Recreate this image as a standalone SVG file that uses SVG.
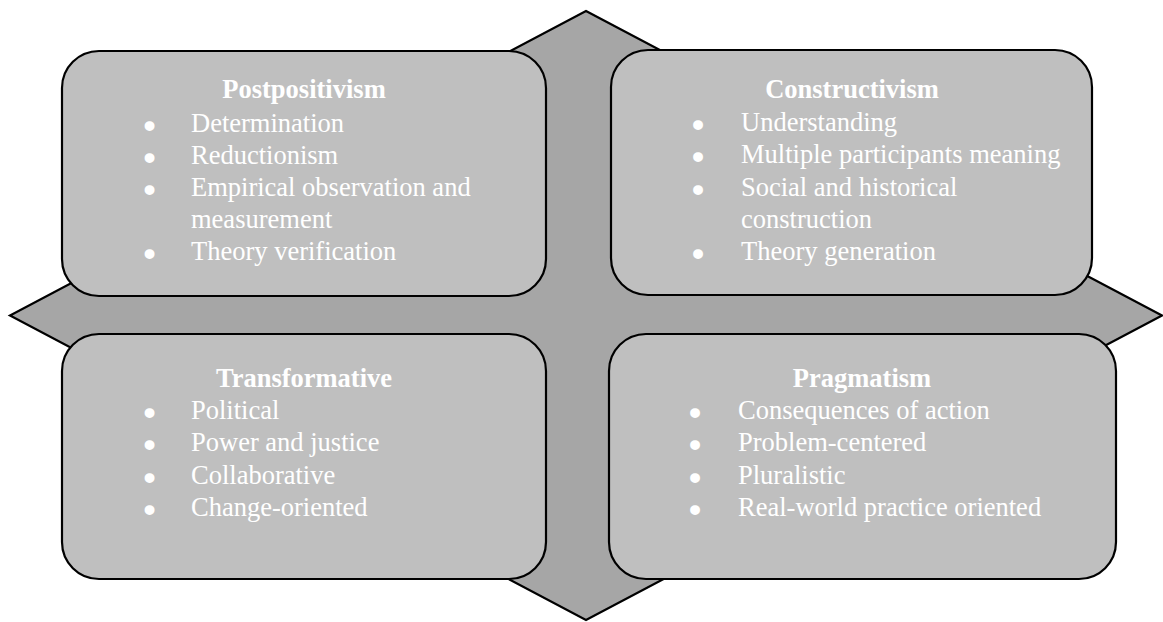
<svg xmlns="http://www.w3.org/2000/svg" width="1163" height="622" viewBox="0 0 1163 622">
<style>
.bg{fill:#a6a6a6;stroke:#000;stroke-width:2.2;stroke-linejoin:miter}
.box{fill:#bfbfbf;stroke:#000;stroke-width:2.2}
text{font-family:"Liberation Serif","Times New Roman",serif;font-size:26.5px;fill:#fff}
.t{font-weight:bold;text-anchor:middle}
.b{text-anchor:middle;font-size:26px;stroke:#fff;stroke-width:3.6;stroke-linejoin:round}
</style>
<rect width="1163" height="622" fill="#fff"/>
<g id="background">
<polygon class="bg" points="586,11 1162,315.5 586,620 10,315.5"/>
</g>
<g id="postpositivism">
<rect class="box" x="62" y="51" width="484" height="245" rx="37" ry="37"/>
<text class="t" x="304" y="98">Postpositivism</text>
<text class="b" x="149.5" y="134.5">•</text><text x="191" y="131.5">Determination</text>
<text class="b" x="149.5" y="167">•</text><text x="191" y="164">Reductionism</text>
<text class="b" x="149.5" y="199">•</text><text x="191" y="196">Empirical observation and</text>
<text x="191" y="228">measurement</text>
<text class="b" x="149.5" y="263">•</text><text x="191" y="260">Theory verification</text>
</g>
<g id="constructivism">
<rect class="box" x="611" y="50" width="481" height="245" rx="37" ry="37"/>
<text class="t" x="852" y="98">Constructivism</text>
<text class="b" x="698" y="134">•</text><text x="741" y="131">Understanding</text>
<text class="b" x="698" y="166">•</text><text x="741" y="163">Multiple participants meaning</text>
<text class="b" x="698" y="199">•</text><text x="741" y="196">Social and historical</text>
<text x="741" y="228">construction</text>
<text class="b" x="698" y="263">•</text><text x="741" y="260">Theory generation</text>
</g>
<g id="transformative">
<rect class="box" x="62" y="334" width="484" height="245" rx="37" ry="37"/>
<text class="t" x="304" y="387">Transformative</text>
<text class="b" x="149.5" y="422">•</text><text x="191" y="419">Political</text>
<text class="b" x="149.5" y="454">•</text><text x="191" y="451">Power and justice</text>
<text class="b" x="149.5" y="487">•</text><text x="191" y="484">Collaborative</text>
<text class="b" x="149.5" y="519">•</text><text x="191" y="516">Change-oriented</text>
</g>
<g id="pragmatism">
<rect class="box" x="609" y="334" width="507" height="245" rx="37" ry="37"/>
<text class="t" x="862" y="387">Pragmatism</text>
<text class="b" x="695" y="422">•</text><text x="738" y="419">Consequences of action</text>
<text class="b" x="695" y="454">•</text><text x="738" y="451">Problem-centered</text>
<text class="b" x="695" y="487">•</text><text x="738" y="484">Pluralistic</text>
<text class="b" x="695" y="519">•</text><text x="738" y="516">Real-world practice oriented</text>
</g>
<g id="connectors"></g>
</svg>
